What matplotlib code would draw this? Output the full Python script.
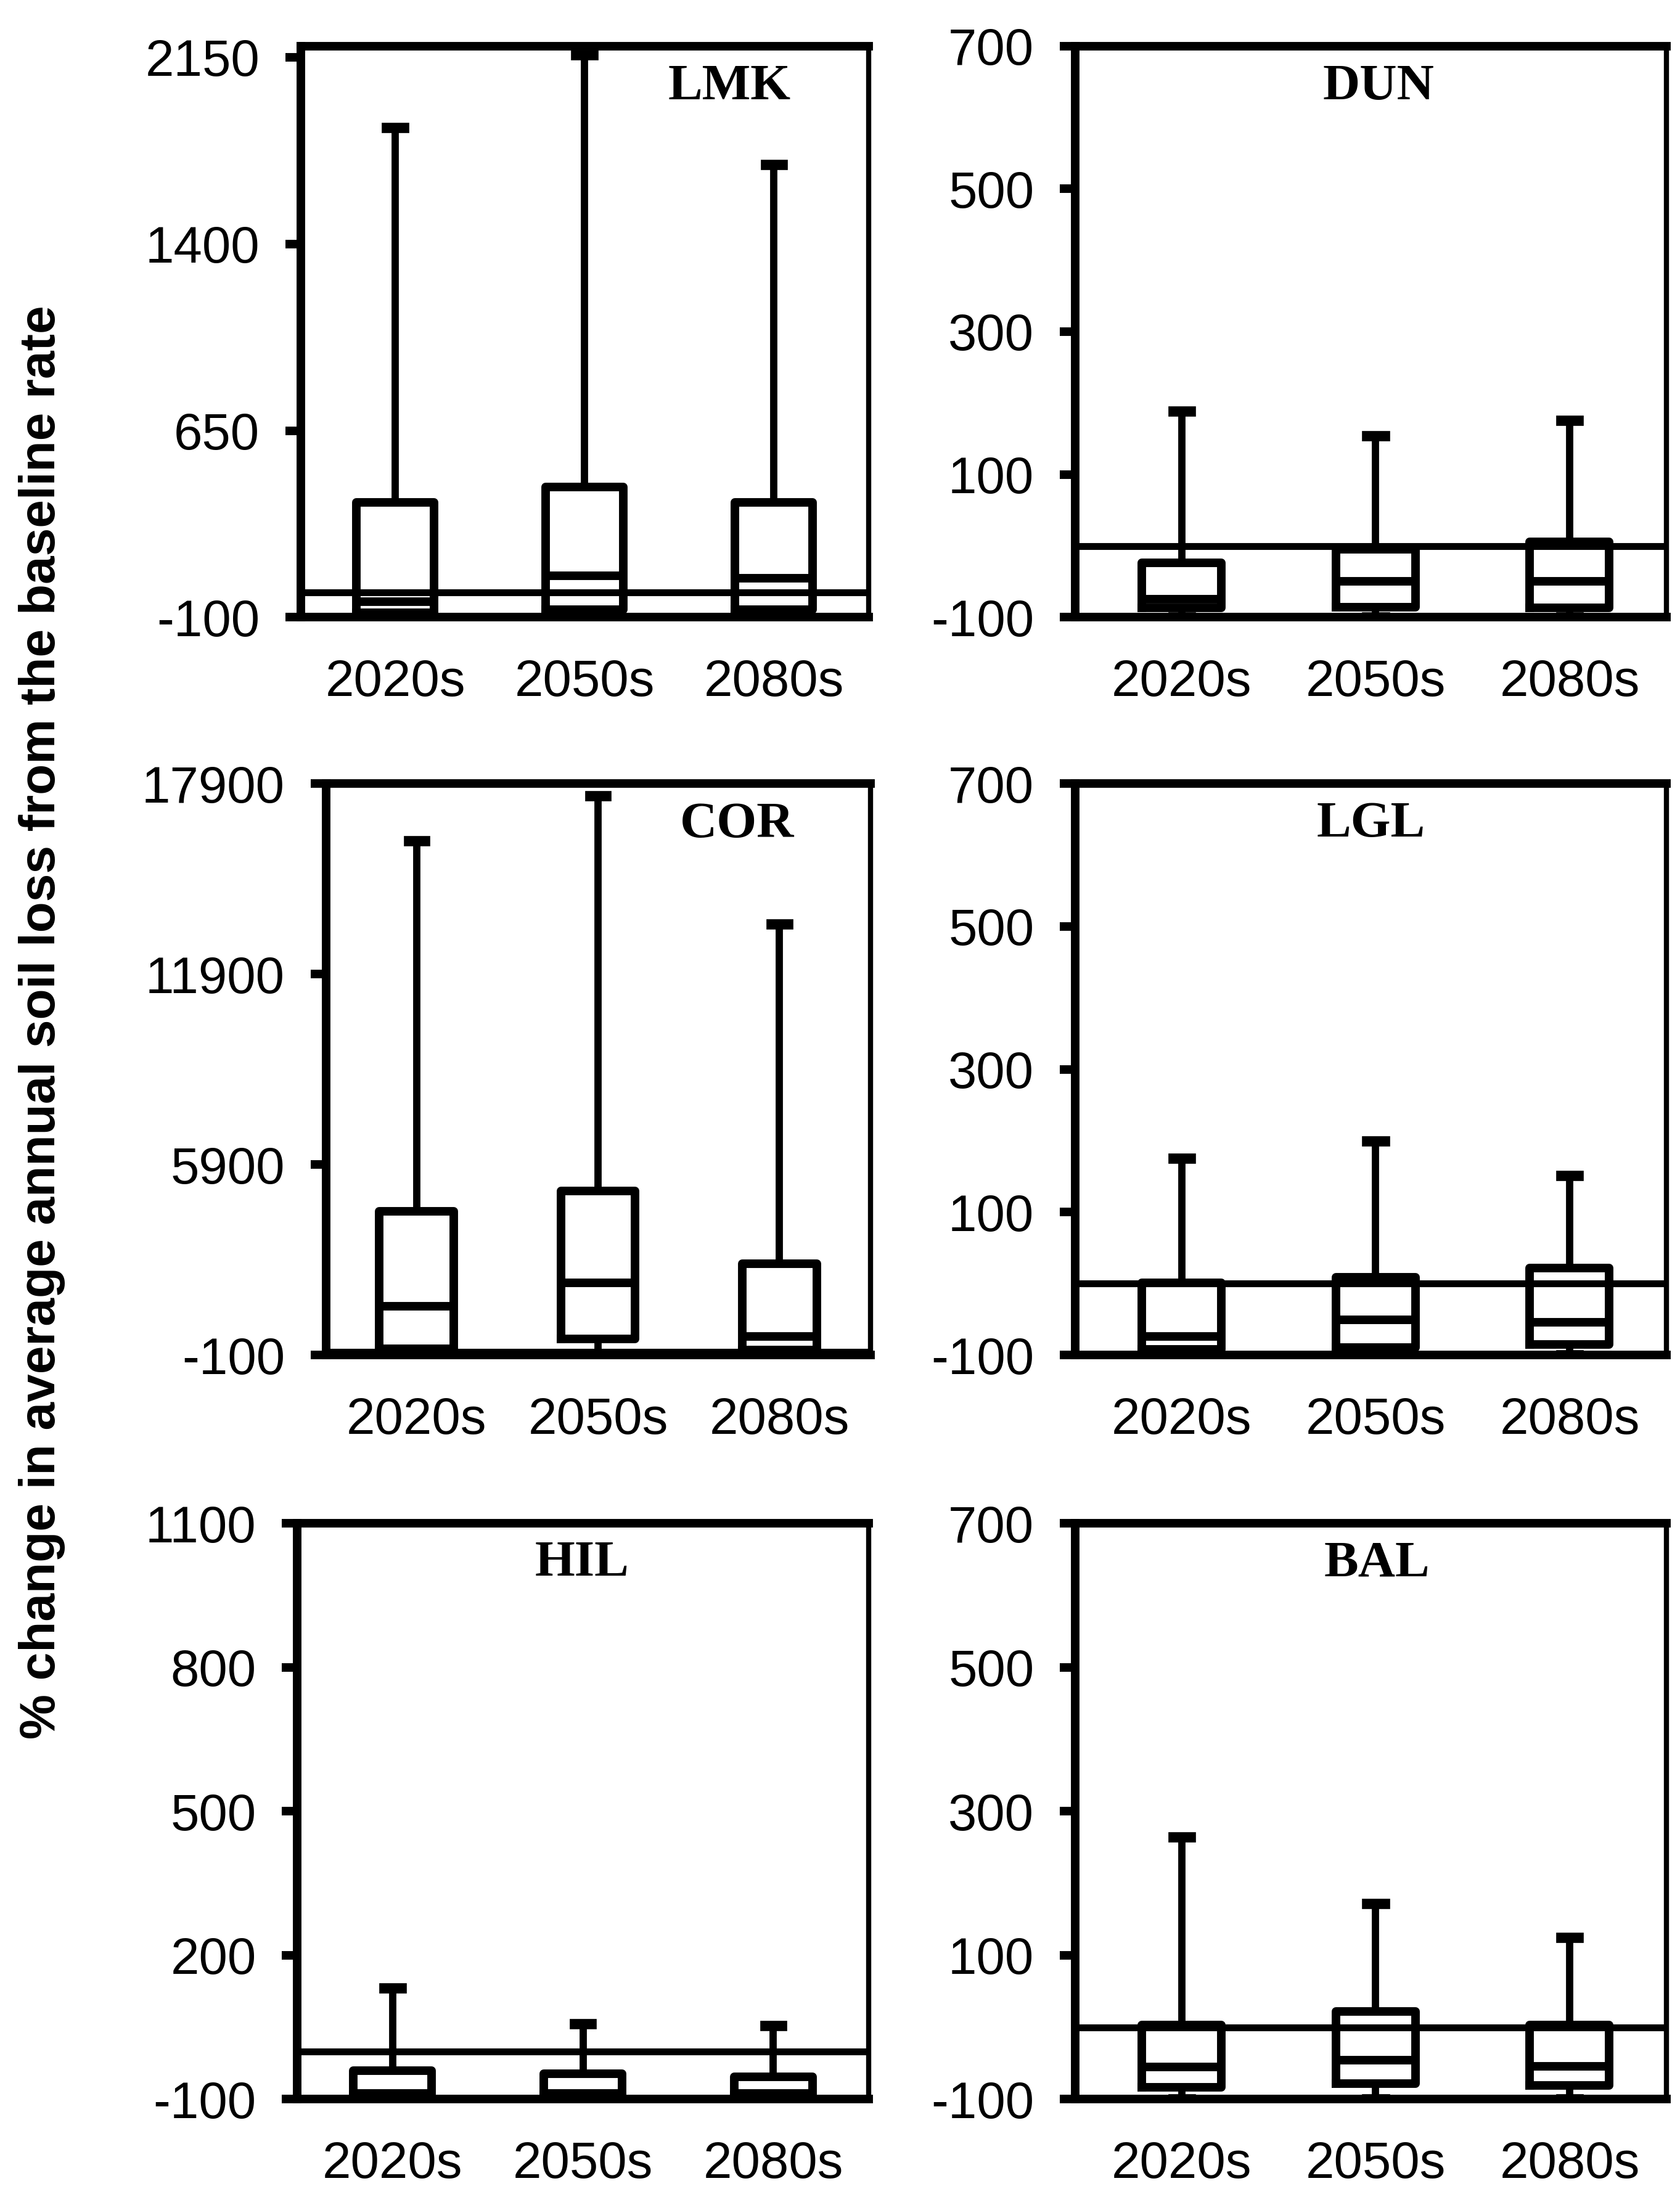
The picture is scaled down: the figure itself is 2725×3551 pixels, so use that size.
import numpy as np
import matplotlib
matplotlib.use("Agg")
import matplotlib.pyplot as plt

plt.rcParams['font.family'] = ['Liberation Sans', 'DejaVu Sans']

periods = ['2020s', '2050s', '2080s']

# one entry per catchment: lower whisker, q1, median, q3, upper whisker
lmk_lo = [-100, -100, -100]
lmk_q1 = [-82, -69, -69]
lmk_med = [-36, 68, 58]
lmk_q3 = [361, 424, 361]
lmk_hi = [1867, 2160, 1718]

dun_lo = [-100, -100, -100]
dun_q1 = [-87, -86, -87]
dun_med = [-75, -50, -50]
dun_q3 = [-24, -5, 6]
dun_hi = [189, 154, 176]

cor_lo = [-100, -100, -100]
cor_q1 = [97, 403, 65]
cor_med = [1434, 2164, 488]
cor_q3 = [4420, 5065, 2783]
cor_hi = [16090, 17520, 13480]

lgl_lo = [-100, -100, -100]
lgl_q1 = [-92, -90, -85]
lgl_med = [-74, -51, -54]
lgl_q3 = [1, 9, 22]
lgl_hi = [175, 200, 151]

hil_lo = [-100, -100, -100]
hil_q1 = [-90, -90, -90]
hil_med = [-88, -88, -88]
hil_q3 = [-40, -47, -53]
hil_hi = [132, 57, 53]

bal_lo = [-100, -100, -100]
bal_q1 = [-83, -78, -81]
bal_med = [-55, -46, -54]
bal_q3 = [3, 22, 3]
bal_hi = [264, 172, 125]

panels = [
    ('LMK', (lmk_lo, lmk_q1, lmk_med, lmk_q3, lmk_hi), [-100, 650, 1400, 2150], 2195),
    ('DUN', (dun_lo, dun_q1, dun_med, dun_q3, dun_hi), [-100, 100, 300, 500, 700], 700),
    ('COR', (cor_lo, cor_q1, cor_med, cor_q3, cor_hi), [-100, 5900, 11900, 17900], 17900),
    ('LGL', (lgl_lo, lgl_q1, lgl_med, lgl_q3, lgl_hi), [-100, 100, 300, 500, 700], 700),
    ('HIL', (hil_lo, hil_q1, hil_med, hil_q3, hil_hi), [-100, 200, 500, 800, 1100], 1100),
    ('BAL', (bal_lo, bal_q1, bal_med, bal_q3, bal_hi), [-100, 100, 300, 500, 700], 700),
]

# axes rectangles [left, bottom, width, height] in figure fraction
rects = [
    [0.179, 0.718, 0.338, 0.261],
    [0.640, 0.718, 0.352, 0.261],
    [0.194, 0.381, 0.324, 0.261],
    [0.640, 0.381, 0.352, 0.261],
    [0.177, 0.041, 0.340, 0.263],
    [0.640, 0.041, 0.352, 0.263],
]
title_pos = [(0.755, 0.928), (0.513, 0.928), (0.755, 0.928),
             (0.50, 0.928), (0.498, 0.93), (0.51, 0.93)]

fig = plt.figure(figsize=(27.25, 35.51), dpi=100)

for k, (name, stats, ticks, top) in enumerate(panels):
    ax = fig.add_axes(rects[k])
    lo, q1, med, q3, hi = stats
    bxp_stats = []
    for i in range(3):
        bxp_stats.append({'whislo': lo[i], 'q1': q1[i], 'med': med[i],
                          'q3': q3[i], 'whishi': hi[i], 'label': periods[i]})
    ax.axhline(0, color='black', lw=8, zorder=1)
    ax.bxp(bxp_stats, positions=[1, 2, 3], widths=0.41, showfliers=False,
           capwidths=0.09,
           boxprops=dict(color='black', lw=10),
           medianprops=dict(color='black', lw=10),
           whiskerprops=dict(color='black', lw=8.5),
           capprops=dict(color='black', lw=12))
    if k % 2 == 0:
        ax.set_xlim(0.5, 3.5)
    else:
        ax.set_xlim(0.45, 3.5)
    ax.set_ylim(-100, top)
    ax.set_yticks(ticks)
    ax.set_yticklabels([str(t) for t in ticks])
    ax.tick_params(axis='y', direction='out', length=18, width=10, pad=30,
                   labelsize=60)
    ax.tick_params(axis='x', length=0, pad=48, labelsize=60)
    for s in ['left', 'bottom', 'top']:
        ax.spines[s].set_linewidth(10)
    ax.spines['right'].set_linewidth(6)
    ax.text(title_pos[k][0], title_pos[k][1], name, transform=ax.transAxes,
            ha='center', va='center', fontsize=60, fontweight='bold',
            family='Liberation Serif')

fig.text(0.025, 0.533, '% change in average annual soil loss from the baseline rate',
         rotation=90, ha='center', va='center', fontsize=59, fontweight='bold')

fig.savefig('out.png', dpi=100)
